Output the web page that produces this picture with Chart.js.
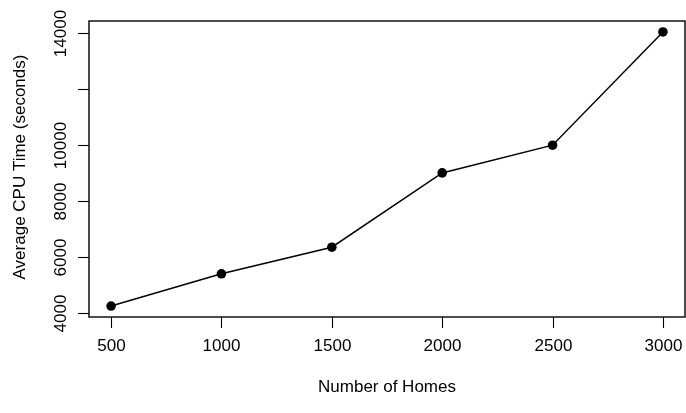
<!DOCTYPE html>
<html>
<head>
<meta charset="utf-8">
<script src="https://cdn.jsdelivr.net/npm/chart.js@4/dist/chart.umd.min.js"></script>
<style>
  html, body { margin: 0; padding: 0; background: #ffffff; }
  #wrap { width: 686px; height: 413px; }
</style>
</head>
<body>
<div id="wrap"><canvas id="cpu" width="686" height="413"></canvas></div>
<script>
// Number of homes simulated and the mean CPU time each run took
const homes = [500, 1000, 1500, 2000, 2500, 3000];
const cpuSeconds = [4240, 5390, 6340, 8990, 9980, 14020];

// Axis ticks (the 12000 label is left blank, as base graphics drops it)
const xTickValues = [500, 1000, 1500, 2000, 2500, 3000];
const xTickLabels = ['500', '1000', '1500', '2000', '2500', '3000'];
const yTickValues = [4000, 6000, 8000, 10000, 12000, 14000];
const yTickLabels = ['4000', '6000', '8000', '10000', '', '14000'];

const xTitle = 'Number of Homes';
const yTitle = 'Average CPU Time (seconds)';

// Base-graphics style 4% padding around the data range
function paddedRange(values) {
  const lo = Math.min(...values), hi = Math.max(...values);
  const pad = 0.04 * (hi - lo);
  return [lo - pad, hi + pad];
}
const [xMin, xMax] = paddedRange(homes);
const [yMin, yMax] = paddedRange(cpuSeconds);

const FAMILY = '"Liberation Sans", Arial, Helvetica, sans-serif';
const TICK_FONT = '17px ' + FAMILY;
const TITLE_FONT = '17px ' + FAMILY;
const TICK_LEN = 11;

// Draws the boxed frame, outward ticks, tick labels and axis titles
const baseAxes = {
  id: 'baseAxes',
  afterDraw(chart) {
    const ctx = chart.ctx;
    const a = chart.chartArea;
    const xs = chart.scales.x, ys = chart.scales.y;
    ctx.save();
    ctx.strokeStyle = '#000';
    ctx.fillStyle = '#000';

    ctx.lineWidth = 1.4;
    ctx.strokeRect(a.left, a.top, a.right - a.left, a.bottom - a.top);

    ctx.lineWidth = 1.1;
    ctx.font = TICK_FONT;

    // bottom axis
    ctx.textAlign = 'center';
    ctx.textBaseline = 'middle';
    xTickValues.forEach((v, i) => {
      const px = Math.round(xs.getPixelForValue(v)) + 0.5;
      ctx.beginPath();
      ctx.moveTo(px, a.bottom);
      ctx.lineTo(px, a.bottom + TICK_LEN);
      ctx.stroke();
      ctx.fillText(xTickLabels[i], px, a.bottom + 29);
    });

    // left axis, labels read bottom to top
    yTickValues.forEach((v, i) => {
      const py = Math.round(ys.getPixelForValue(v)) + 0.5;
      ctx.beginPath();
      ctx.moveTo(a.left, py);
      ctx.lineTo(a.left - TICK_LEN, py);
      ctx.stroke();
      if (yTickLabels[i]) {
        ctx.save();
        ctx.translate(a.left - 28, py);
        ctx.rotate(-Math.PI / 2);
        ctx.fillText(yTickLabels[i], 0, 0);
        ctx.restore();
      }
    });

    // axis titles
    ctx.font = TITLE_FONT;
    ctx.fillText(xTitle, (a.left + a.right) / 2, a.bottom + 70);
    ctx.save();
    ctx.translate(a.left - 69, (a.top + a.bottom) / 2 - 2);
    ctx.rotate(-Math.PI / 2);
    ctx.fillText(yTitle, 0, 0);
    ctx.restore();

    ctx.restore();
  }
};

new Chart(document.getElementById('cpu'), {
  type: 'line',
  data: {
    datasets: [{
      data: homes.map((h, i) => ({ x: h, y: cpuSeconds[i] })),
      borderColor: '#000',
      backgroundColor: '#000',
      borderWidth: 1.5,
      pointRadius: 4.8,
      pointHoverRadius: 4.8,
      pointBorderWidth: 0,
      pointBackgroundColor: '#000',
      tension: 0,
      fill: false
    }]
  },
  options: {
    responsive: false,
    animation: false,
    devicePixelRatio: 1,
    layout: { autoPadding: false, padding: { left: 89, right: 1, top: 21, bottom: 96 } },
    plugins: {
      legend: { display: false },
      tooltip: { enabled: false }
    },
    scales: {
      x: { type: 'linear', min: xMin, max: xMax, display: false },
      y: { type: 'linear', min: yMin, max: yMax, display: false }
    }
  },
  plugins: [baseAxes]
});
</script>
</body>
</html>
